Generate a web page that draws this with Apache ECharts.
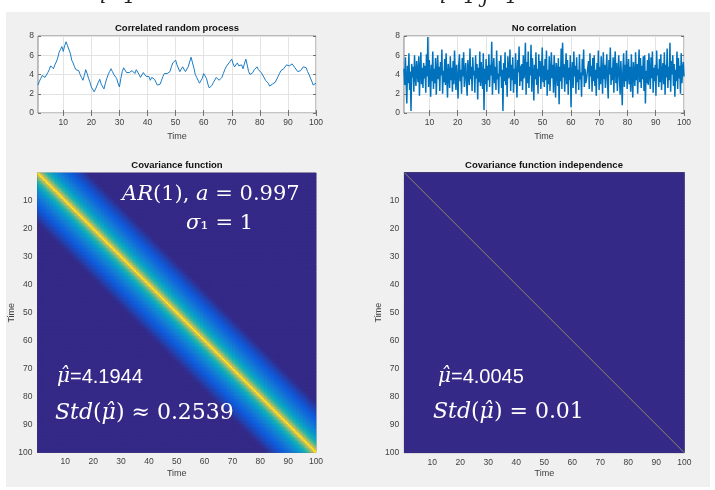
<!DOCTYPE html>
<html><head><meta charset="utf-8">
<script src="https://cdn.jsdelivr.net/npm/echarts@6/dist/echarts.min.js"></script>
<style>
html,body{margin:0;padding:0;background:#fff;}
#bg{position:absolute;left:6px;top:12px;width:704px;height:475px;background:#f0f0f0;}
#main{position:absolute;left:0;top:0;width:715px;height:490px;}
</style></head><body>
<div id="bg"></div><div id="main"></div>
<script>
// ---------- data ----------
const timeTicks = [10,20,30,40,50,60,70,80,90,100];
const valueTicks = [0,2,4,6,8];
// correlated process, sampled every 0.5 time units from t = 1 to t = 100
const corrStart = 1, corrStep = 0.5;
const corrValues = [
2.9,3.3,3.6,3.9,4.1,3.7,3.6,4.2,4.5,4.9,4.8,4.6,5.0,5.3,5.7,6.3,6.6,6.9,6.4,7.0,
7.4,7.0,7.2,6.2,5.5,5.2,4.8,4.5,4.3,4.4,4.0,3.7,3.4,3.9,4.5,4.1,3.6,3.2,2.7,2.5,
2.2,2.5,2.7,3.2,3.5,3.0,2.8,2.5,3.1,3.6,4.0,4.3,4.6,4.3,4.0,3.8,3.6,3.1,2.7,3.6,
4.3,4.7,4.6,4.2,4.0,4.2,4.1,4.4,4.3,4.1,4.5,4.3,4.0,3.7,3.8,4.2,4.1,3.8,3.6,3.8,
3.4,3.7,3.8,3.5,3.3,2.9,2.7,3.0,3.4,3.8,4.1,3.9,4.1,4.0,4.3,4.8,5.2,5.4,5.5,5.0,
4.8,4.3,4.5,4.8,4.6,4.3,4.1,4.8,5.3,5.8,5.7,4.7,4.0,3.7,3.4,3.1,2.9,3.6,4.1,3.9,
3.6,3.0,2.6,2.8,2.9,3.2,3.4,3.7,3.6,3.4,3.3,3.7,4.1,4.5,4.8,5.0,5.2,5.4,5.6,5.1,
4.8,5.0,5.2,4.9,4.8,5.0,4.6,5.1,5.6,5.0,4.3,4.0,3.8,4.2,4.5,4.7,4.8,4.5,4.3,4.2,
4.0,3.7,3.4,3.3,3.1,2.8,2.7,3.0,2.9,3.2,3.4,3.8,4.1,4.4,4.5,4.6,4.8,5.0,5.2,4.9,
4.8,5.1,5.0,4.7,4.5,4.3,4.1,4.4,4.6,4.8,5.0,4.7,4.3,4.0,3.8,3.3,2.9,3.0,3.1
];
// uncorrelated process, 400 samples evenly spread over t = 1 .. 100
const noiseStart = 1, noiseEnd = 100;
const noiseValues = [
4.6,2.9,5.8,3.4,1.0,4.9,3.1,6.2,2.4,4.3, 0.2,5.1,3.7,4.8,2.2,6.0,3.9,2.8,5.4,4.1,
3.2,5.9,1.8,4.4,6.3,3.0,4.7,2.6,5.2,3.6, 4.9,2.1,6.1,3.8,7.9,2.7,5.5,4.0,1.7,5.0,
3.3,6.4,2.5,4.6,3.1,5.7,1.9,4.2,6.0,3.5, 4.8,2.3,5.3,3.9,6.6,2.0,4.4,3.2,5.6,2.9,
6.2,3.7,1.6,5.1,4.0,2.6,5.9,3.4,4.7,2.2, 5.4,3.0,6.5,4.1,2.4,5.0,3.6,1.5,4.9,6.1,
3.3,4.5,2.0,5.7,3.8,6.3,2.7,4.2,5.2,3.1, 1.8,5.5,4.0,2.9,6.7,3.5,4.8,2.3,5.8,3.9,
4.4,2.1,6.0,3.6,5.1,1.4,4.7,3.2,6.4,2.8, 5.3,3.7,2.5,6.2,0.3,4.6,3.0,5.6,2.2,4.9,
3.4,6.1,2.7,5.0,3.9,7.4,1.9,4.3,5.7,3.1, 4.8,2.4,6.5,3.5,4.1,2.0,5.4,3.8,6.0,2.6,
4.5,0.2,5.2,3.3,6.3,2.9,4.7,1.7,5.9,3.6, 4.0,6.6,2.3,5.0,3.4,5.8,2.1,4.6,3.0,6.2,
3.7,1.6,5.5,4.2,6.9,2.8,4.9,3.3,5.1,2.4, 6.0,3.6,4.4,7.3,1.9,5.3,3.1,6.4,2.6,4.8,
3.9,7.1,2.2,5.7,4.0,1.3,5.0,3.5,6.3,2.9, 4.6,2.0,6.1,3.8,5.4,2.5,4.3,6.8,3.2,4.9,
2.7,5.6,3.4,6.5,1.8,4.5,3.0,5.9,2.3,4.1, 6.3,3.6,5.0,2.1,6.0,3.9,1.6,5.2,4.4,2.8,
5.7,0.9,4.8,3.3,6.7,2.5,7.3,3.7,5.1,2.2, 4.3,6.2,3.0,5.5,1.9,4.7,3.4,6.0,0.6,4.1,
5.3,2.6,6.4,3.8,4.9,2.0,5.8,3.2,4.5,2.4, 6.1,3.5,4.2,1.7,5.6,3.9,6.6,2.7,4.6,3.1,
3.5,3.4,3.6,5.4,2.5,6.2,3.8,4.9,2.2,5.7, 3.3,6.0,2.8,4.5,1.8,5.2,3.6,6.5,2.4,4.8,
3.0,5.9,4.1,2.0,6.3,3.5,5.0,2.6,4.4,6.1, 3.2,1.5,5.5,4.0,6.8,2.9,4.7,3.4,5.8,2.1,
4.9,6.4,3.1,5.2,2.3,4.3,6.0,3.7,1.9,5.4, 3.6,0.8,4.6,6.2,2.7,5.0,3.3,6.5,2.5,4.2,
5.6,3.0,4.8,2.2,6.1,3.8,1.6,5.3,4.0,2.8, 6.3,3.4,5.1,2.0,4.5,6.6,3.2,5.7,2.6,4.9,
3.5,5.9,2.3,6.0,1.0,4.4,3.1,5.5,2.9,6.2, 4.1,2.5,5.8,3.6,6.4,2.1,4.7,3.3,5.0,1.8,
6.5,3.9,4.6,2.7,5.6,3.2,6.1,2.4,4.3,5.2, 3.0,6.3,1.9,5.0,3.7,6.7,2.6,4.8,3.4,7.3,
2.2,5.4,4.0,6.0,2.8,5.1,1.7,4.5,3.3,6.4, 2.5,5.7,3.6,4.9,2.0,6.2,3.1,4.4,5.3,3.8
];
const lagStep = 0.5;
const lagProfile = [
1.00,0.82,0.72,0.65,0.59,0.54,0.50,0.46,0.43,0.40,
0.37,0.345,0.32,0.30,0.28,0.26,0.24,0.225,0.21,0.195,
0.18,0.165,0.15,0.138,0.125,0.115,0.105,0.095,0.085,0.075,
0.065,0.054,0.043,0.032,0.021,0.011,0.004
];
const indepOffDiag = 0;          // covariance between distinct times (independent case)
const diagTimes = [0, 100];      // ends of the diagonal s = t
const timeRange = [0, 100];
const parula = ['#352a87','#0f5cdd','#1481d6','#06a4ca','#2eb7a4','#87bf77','#d1bb59','#fec832','#f9fb0e'];

// ---------- build series data ----------
const corrData = corrValues.map((v, i) => [corrStart + i * corrStep, v]);
const noiseData = noiseValues.map((v, i) => [noiseStart + i * (noiseEnd - noiseStart) / (noiseValues.length - 1), v]);
const N = Math.round((timeRange[1] - timeRange[0]) / lagStep);
const cats = Array.from({length: N}, (_, i) => String(i));
const covData = [];
for (let r = 0; r < N; r++) for (let c = 0; c < N; c++) {
  const d = Math.abs(r - c);
  covData.push([c, r, d < lagProfile.length ? lagProfile[d] : 0]);
}
const N2 = 100;
const cats2 = Array.from({length: N2}, (_, i) => String(i));
const indepData = [];
for (let r = 0; r < N2; r++) for (let c = 0; c < N2; c++) indepData.push([c, r, indepOffDiag]);
const diagData = diagTimes.map(t => [t, t]);

// ---------- styles ----------
const F = 'Liberation Sans, Arial, sans-serif';
const tickLbl = {fontFamily: F, fontSize: 8.5, color: '#404040'};
const nameSty = {fontFamily: F, fontSize: 9, color: '#404040'};
const gridLine = {show: true, lineStyle: {color: '#e3e3e3', width: 1}};
const tickIn = {show: true, inside: true, length: 3, lineStyle: {color: '#555', width: 0.8}};

function timeX(gi) {
  return {
    gridIndex: gi, type: 'value', min: 1, max: 100,
    axisLine: {show: false},
    axisTick: Object.assign({customValues: timeTicks}, tickIn),
    axisLabel: Object.assign({customValues: timeTicks, margin: 5}, tickLbl),
    splitLine: gridLine,
    name: 'Time', nameLocation: 'middle', nameGap: 19, nameMoveOverlap: false, nameTextStyle: nameSty
  };
}
function timeXTop(gi) {
  return {gridIndex: gi, type: 'value', position: 'top', min: 1, max: 100,
    axisLine: {show: false}, axisTick: Object.assign({customValues: timeTicks}, tickIn),
    axisLabel: {show: false}, splitLine: {show: false}};
}
function valY(gi) {
  return {gridIndex: gi, type: 'value', min: 0, max: 8, interval: 2,
    axisLine: {show: false}, axisTick: tickIn,
    axisLabel: Object.assign({margin: 4}, tickLbl), splitLine: gridLine};
}
function valYRight(gi) {
  return {gridIndex: gi, type: 'value', position: 'right', min: 0, max: 8, interval: 2,
    axisLine: {show: false}, axisTick: tickIn, axisLabel: {show: false}, splitLine: {show: false}};
}
function catAx(gi, data, inv) {
  return {gridIndex: gi, type: 'category', data: data, inverse: !!inv, show: false, boundaryGap: true};
}
function overX(gi) {
  return {gridIndex: gi, type: 'value', min: 0, max: 100, interval: 10,
    axisLine: {show: true, lineStyle: {color: '#333', width: 0.6}}, axisTick: {show: false},
    axisLabel: Object.assign({showMinLabel: false, margin: 5}, tickLbl), splitLine: {show: false},
    name: 'Time', nameLocation: 'middle', nameGap: 16.5, nameMoveOverlap: false, nameTextStyle: nameSty};
}
function overY(gi) {
  return {gridIndex: gi, type: 'value', min: 0, max: 100, interval: 10, inverse: true,
    axisLine: {show: true, lineStyle: {color: '#333', width: 0.6}}, axisTick: {show: false},
    axisLabel: Object.assign({showMinLabel: false, margin: 5}, tickLbl), splitLine: {show: false},
    name: 'Time', nameLocation: 'middle', nameGap: 21, nameMoveOverlap: false, nameTextStyle: nameSty};
}

const gTL = {left: 38, top: 36, width: 278, height: 77};
const gTR = {left: 404, top: 36, width: 280, height: 77};
const gBL = {left: 37.5, top: 173, width: 278.5, height: 279.5};
const gBR = {left: 404.3, top: 172.7, width: 280, height: 280};
const boxed = (g, bg) => Object.assign({show: true, backgroundColor: bg, borderColor: '#3a3a3a', borderWidth: 0.6}, g);

const titleSty = (x, y, text) => ({type: 'text', x: x, y: y, z: 50,
  style: {text: text, fontFamily: F, fontWeight: 'bold', fontSize: 9.5, fill: '#111', align: 'center', verticalAlign: 'middle'}});

const serif = 'DejaVu Serif, Liberation Serif, serif';
const mathRich = (fs) => ({
  i: {fontFamily: serif, fontStyle: 'italic', fontSize: fs, fill: '#fff'},
  n: {fontFamily: serif, fontSize: fs, fill: '#fff'},
  s: {fontFamily: F, fontSize: fs, fill: '#fff'}
});

const chart = echarts.init(document.getElementById('main'), null, {renderer: 'canvas'});
chart.setOption({
  animation: false,
  backgroundColor: 'transparent',
  grid: [boxed(gTL, '#fff'), boxed(gTR, '#fff'), boxed(gBL, '#352a87'), Object.assign({show: false}, gBL),
         boxed(gBR, '#352a87'), Object.assign({show: false}, gBR)],
  xAxis: [timeX(0), timeXTop(0), timeX(1), timeXTop(1), catAx(2, cats), overX(3), catAx(4, cats2), overX(5)],
  yAxis: [valY(0), valYRight(0), valY(1), valYRight(1), catAx(2, cats, true), overY(3), catAx(4, cats2, true), overY(5)],
  visualMap: [{type: 'continuous', min: 0, max: 1, show: false, seriesIndex: [2, 3], inRange: {color: parula}}],
  series: [
    {type: 'line', xAxisIndex: 0, yAxisIndex: 0, data: corrData, showSymbol: false, symbol: 'none',
     lineStyle: {color: '#1a7cc4', width: 1}},
    {type: 'line', xAxisIndex: 2, yAxisIndex: 2, data: noiseData, showSymbol: false, symbol: 'none',
     lineStyle: {color: '#0072bd', width: 1.5}},
    {type: 'heatmap', xAxisIndex: 4, yAxisIndex: 4, data: covData, progressive: 0, emphasis: {disabled: true}},
    {type: 'heatmap', xAxisIndex: 6, yAxisIndex: 6, data: indepData, progressive: 0, emphasis: {disabled: true}},
    {type: 'line', xAxisIndex: 7, yAxisIndex: 7, data: diagData, showSymbol: false, symbol: 'none', z: 5,
     lineStyle: {color: '#a3a264', width: 0.8}}
  ],
  graphic: [
    {type: 'text', x: 100, y: 8, z: 50, style: {text: 'i=1', fontFamily: serif, fontStyle: 'italic', fontSize: 20, fill: '#222', verticalAlign: 'bottom'}},
    {type: 'text', x: 440, y: 8, z: 50, style: {text: 'i=1 j=1', fontFamily: serif, fontStyle: 'italic', fontSize: 20, fill: '#222', verticalAlign: 'bottom'}},
    titleSty(177, 28, 'Correlated random process'),
    titleSty(544, 28, 'No correlation'),
    titleSty(177, 165.5, 'Covariance function'),
    titleSty(544, 165.5, 'Covariance function independence'),
    {type: 'text', x: 122, y: 195, z: 60, style: {text: '{i|AR}{n|(1), }{i|a}{n| = 0.997}', rich: mathRich(21), verticalAlign: 'middle'}},
    {type: 'text', x: 186, y: 224, z: 60, style: {text: '{i|σ}{n|₁ = 1}', rich: mathRich(21), verticalAlign: 'middle'}},
    {type: 'text', x: 57, y: 377, z: 60, style: {text: '{i|μ̂}{s|=4.1944}', rich: mathRich(20), verticalAlign: 'middle'}},
    {type: 'text', x: 55, y: 413, z: 60, style: {text: '{i|Std}{n|(}{i|μ̂}{n|) ≈ 0.2539}', rich: mathRich(22), verticalAlign: 'middle'}},
    {type: 'text', x: 438, y: 377, z: 60, style: {text: '{i|μ̂}{s|=4.0045}', rich: mathRich(20), verticalAlign: 'middle'}},
    {type: 'text', x: 433, y: 412, z: 60, style: {text: '{i|Std}{n|(}{i|μ̂}{n|) = 0.01}', rich: mathRich(22), verticalAlign: 'middle'}}
  ]
});
</script>
</body></html>
